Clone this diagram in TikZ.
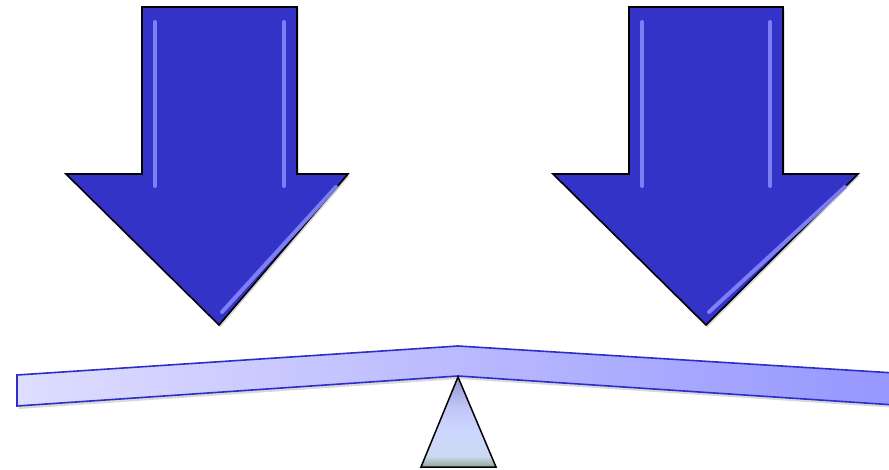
\documentclass[tikz,border=0pt]{standalone}
\usetikzlibrary{shadows}
\definecolor{arrowblue}{RGB}{51,51,200}
\definecolor{hilite}{RGB}{140,140,255}
\definecolor{beamedge}{RGB}{45,45,200}
\definecolor{beamleft}{RGB}{222,222,255}
\definecolor{beamright}{RGB}{150,150,255}
\pgfdeclareverticalshading{fulcrumshade}{100bp}{
  rgb(0bp)=(0.58,0.65,0.58); rgb(25bp)=(0.58,0.65,0.58); rgb(31bp)=(0.80,0.85,0.95);
  rgb(45bp)=(0.80,0.84,1.0); rgb(58bp)=(0.76,0.78,0.97); rgb(75bp)=(0.58,0.58,0.80);
  rgb(100bp)=(0.58,0.58,0.80)}
\tikzset{
  bigarrow/.style={fill=arrowblue, draw=black, line width=1.6pt, line join=miter,
    drop shadow={shadow xshift=1.5pt, shadow yshift=-2pt, opacity=0.35}},
  bevel/.style={draw=hilite, line width=4pt, line cap=round, opacity=0.85},
  beamstyle/.style={left color=beamleft, right color=beamright, draw=beamedge, line width=1.6pt,
    drop shadow={shadow xshift=1.5pt, shadow yshift=-3pt, opacity=0.3}},
  fulcrum/.style={draw=black, line width=1.5pt, shading=fulcrumshade}
}
\begin{document}
\begin{tikzpicture}[x=1pt,y=-1pt]
\useasboundingbox (0,0) rectangle (889,470);
% left arrow
\draw[bigarrow] (142,7) -- (297,7) -- (297,174) -- (348,174) -- (219,325) -- (66,174) -- (142,174) -- cycle;
\draw[bevel] (155,22) -- (155,186);
\draw[bevel] (284,22) -- (284,186);
\draw[bevel] (336,187) -- (222,312);
% right arrow
\draw[bigarrow] (629,7) -- (783,7) -- (783,174) -- (858,174) -- (706,325) -- (553,174) -- (629,174) -- cycle;
\draw[bevel] (642,22) -- (642,186);
\draw[bevel] (770,22) -- (770,186);
\draw[bevel] (845,187) -- (709,312);
% beam
\draw[beamstyle] (17,375) -- (458,346) -- (895,373) -- (895,405) -- (458,376) -- (17,406) -- cycle;
% fulcrum
\draw[fulcrum] (458,377) -- (496,467) -- (421,467) -- cycle;
\end{tikzpicture}
\end{document}
